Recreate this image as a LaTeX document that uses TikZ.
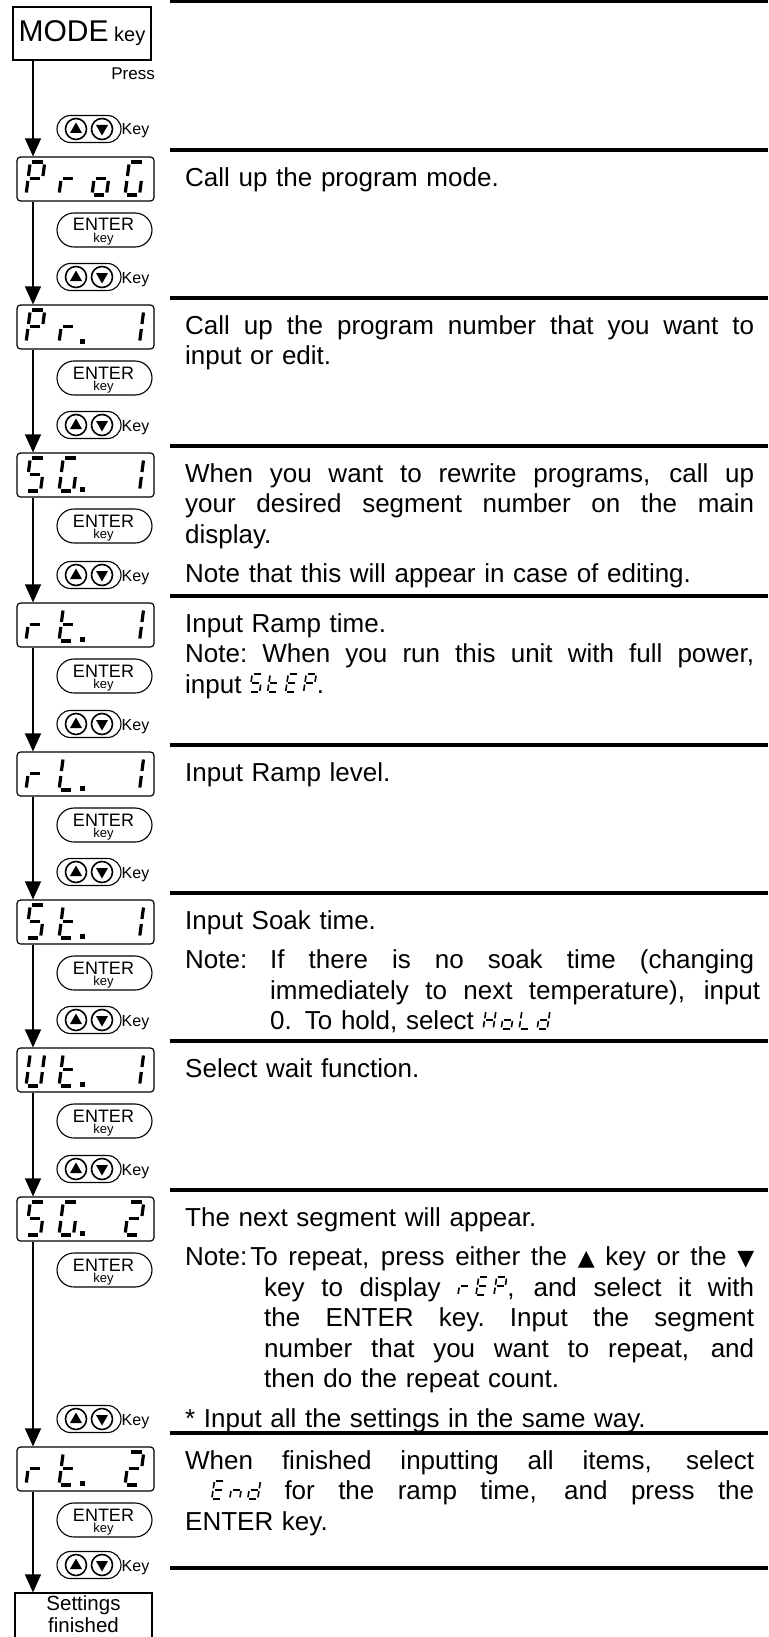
\documentclass[tikz,border=0pt]{standalone}
\usepackage{fontspec}
\setmainfont{Liberation Sans}
\newfontfamily\symfont{DejaVu Sans}
\usetikzlibrary{arrows.meta,shapes.misc}
\hyphenpenalty=10000
\exhyphenpenalty=10000
\hbadness=10000
\hfuzz=30pt

\expandafter\def\csname SEGa\endcsname{(1.5pt,20pt)--(8.5pt,20pt)}
\expandafter\def\csname SEGb\endcsname{(10pt,18.5pt)--(10pt,11.5pt)}
\expandafter\def\csname SEGc\endcsname{(10pt,8.5pt)--(10pt,1.5pt)}
\expandafter\def\csname SEGd\endcsname{(1.5pt,0pt)--(8.5pt,0pt)}
\expandafter\def\csname SEGe\endcsname{(0pt,1.5pt)--(0pt,8.5pt)}
\expandafter\def\csname SEGf\endcsname{(0pt,11.5pt)--(0pt,18.5pt)}
\expandafter\def\csname SEGg\endcsname{(1.5pt,10pt)--(8.5pt,10pt)}

\def\SgP{a,b,e,f,g}
\def\Sgr{e,g}
\def\Sgo{c,d,e,g}
\def\SgG{a,c,d,e,f}
\def\Sgone{b,c}
\def\SgS{a,c,d,f,g}
\def\Sgt{d,e,f,g}
\def\SgL{d,e,f}
\def\SgU{b,c,d,e,f}
\def\Sgtwo{a,b,d,e,g}
\def\SgE{a,d,e,f,g}
\def\SgH{b,c,e,f,g}
\def\Sgd{b,c,d,e,g}
\def\Sgn{c,e,g}

\tikzset{segln/.style={line width=3.2pt}}

\newcommand\segdigit[1]{\edef\seglist{#1}%
  \foreach \sg in \seglist {\edef\segtmp{\csname SEG\sg\endcsname}\draw[segln] \segtmp;}}
\newcommand\dchar[3]{\begin{scope}[shift={(#1,#2)},xslant=0.13,xscale=1.45,yscale=1.65]\segdigit{#3}\end{scope}}
\newcommand\dpt[1]{\fill (80,#1+34) rectangle (84.5,#1+38.5);}
\newcommand\lcd[1]{\tikz[baseline=-1pt]{\foreach \cc [count=\ci] in {#1}{\begin{scope}[xshift=\ci*18pt-18pt,xslant=0.15,xscale=1.0,yscale=0.9,segln/.style={line width=1.6pt}]\segdigit{\cc}\end{scope}}}}
\newcommand\jl[1]{\hbox to 569pt{\spaceskip=7.2pt plus 1fil\xspaceskip=7.2pt plus 1fil\relax #1}}
\newcommand\jh[1]{\hbox to 490pt{\spaceskip=7.2pt plus 1fil\xspaceskip=7.2pt plus 1fil\relax #1}}
\newcommand\tri{\symfont\fontsize{22}{30.5}\selectfont}

\newcommand\disp[2]{\node[dispbox] (#1) at (85.5,#2+22) {};}
\newcommand\enterkey[2]{%
  \node[enterbtn] (#1) at (104.5,#2) {};
  \node[anchor=base,inner sep=0pt,font=\fontsize{18}{18}\selectfont] (#1a) at (103.5,#2+1) {ENTER};
  \node[anchor=base,inner sep=0pt,font=\fontsize{13}{13}\selectfont] (#1b) at (103.5,#2+12.5) {key};}
\newcommand\updown[2]{%
  \node[keypill] (#1) at (89,#2) {};
  \draw[keycirc] (76,#2) circle[radius=10.5pt];
  \draw[keycirc] (102,#2) circle[radius=10.5pt];
  \fill (70,#2+4) -- (82,#2+4) -- (76,#2-6.5) -- cycle;
  \fill (96,#2-4) -- (108,#2-4) -- (102,#2+6.5) -- cycle;
  \node[anchor=base west,inner sep=0pt,font=\fontsize{16}{16}\selectfont] (#1t) at (121.5,#2+6) {Key};}

\begin{document}
\begin{tikzpicture}[x=1pt,y=-1pt,
  dispbox/.style={draw,line width=1.2pt,rounded corners=3.5pt,minimum width=137pt,minimum height=44pt,inner sep=0pt},
  enterbtn/.style={draw,rounded rectangle,line width=1.1pt,minimum width=95pt,minimum height=34pt,inner sep=0pt},
  keypill/.style={draw,rounded rectangle,line width=1.1pt,minimum width=64pt,minimum height=27pt,inner sep=0pt},
  keycirc/.style={line width=1.6pt},
  flow/.style={line width=1.2pt,-{Triangle[width=16pt,length=18pt]}},
  sepline/.style={line width=4pt},
  txt/.style={anchor=north west,inner sep=0pt,text width=569pt,align=left,font=\fontsize{26}{30.5}\selectfont},
]
\path[use as bounding box,fill=white] (0,0) rectangle (768,1637);
\coordinate (X) at (33,0);

% MODE key
\node[draw,line width=1.2pt,minimum width=138pt,minimum height=53pt,inner sep=0pt] (mode) at (82,33.5) {\fontsize{30}{30}\selectfont MODE\fontsize{20}{20}\selectfont\ key};
\node[anchor=base east,inner sep=0pt,font=\fontsize{17}{17}\selectfont] (press) at (155,80) {Press};

% displays
\disp{d1}{157}
\dchar{26}{195}{\SgP}\dchar{59}{195}{\Sgr}\dchar{92}{195}{\Sgo}\dchar{125}{195}{\SgG}
\disp{d2}{305}
\dchar{26}{343}{\SgP}\dchar{59}{343}{\Sgr}\dpt{305}\dchar{125}{343}{\Sgone}
\disp{d3}{453}
\dchar{26}{491}{\SgS}\dchar{59}{491}{\SgG}\dpt{453}\dchar{125}{491}{\Sgone}
\disp{d4}{603}
\dchar{26}{641}{\Sgr}\dchar{59}{641}{\Sgt}\dpt{603}\dchar{125}{641}{\Sgone}
\disp{d5}{752}
\dchar{26}{790}{\Sgr}\dchar{59}{790}{\SgL}\dpt{752}\dchar{125}{790}{\Sgone}
\disp{d6}{900}
\dchar{26}{938}{\SgS}\dchar{59}{938}{\Sgt}\dpt{900}\dchar{125}{938}{\Sgone}
\disp{d7}{1048}
\dchar{26}{1086}{\SgU}\dchar{59}{1086}{\Sgt}\dpt{1048}\dchar{125}{1086}{\Sgone}
\disp{d8}{1197}
\dchar{26}{1235}{\SgS}\dchar{59}{1235}{\SgG}\dpt{1197}\dchar{125}{1235}{\Sgtwo}
\disp{d9}{1447}
\dchar{26}{1485}{\Sgr}\dchar{59}{1485}{\Sgt}\dpt{1447}\dchar{125}{1485}{\Sgtwo}

\node[draw,line width=1.2pt,minimum width=137pt,minimum height=52pt,inner sep=0pt] (fin) at (83.5,1619) {};
\node[inner sep=0pt,align=center,font=\fontsize{20.5}{22}\selectfont] (fint) at (83.5,1614.5) {Settings\\finished};

% keys
\updown{k0}{129}
\enterkey{e1}{230}\updown{k1}{277}
\enterkey{e2}{378}\updown{k2}{425}
\enterkey{e3}{526}\updown{k3}{575}
\enterkey{e4}{676}\updown{k4}{724}
\enterkey{e5}{825}\updown{k5}{872}
\enterkey{e6}{973}\updown{k6}{1020}
\enterkey{e7}{1121}\updown{k7}{1169}
\enterkey{e8}{1270}\updown{k8}{1419}
\enterkey{e9}{1520}\updown{k9}{1565}

% flow
\draw[flow] (mode.south -| X) -- (d1.north -| X);
\draw[flow] (d1.south -| X) -- (d2.north -| X);
\draw[flow] (d2.south -| X) -- (d3.north -| X);
\draw[flow] (d3.south -| X) -- (d4.north -| X);
\draw[flow] (d4.south -| X) -- (d5.north -| X);
\draw[flow] (d5.south -| X) -- (d6.north -| X);
\draw[flow] (d6.south -| X) -- (d7.north -| X);
\draw[flow] (d7.south -| X) -- (d8.north -| X);
\draw[flow] (d8.south -| X) -- (d9.north -| X);
\draw[flow] (d9.south -| X) -- (fin.north -| X);

% separators
\draw[sepline] (170,1) -- (768,1);
\foreach \yy in {150,298,446,596,745,893,1041,1190,1433,1568} {\draw[sepline] (170,\yy) -- (768,\yy);}

% texts
\node[txt] (t1) at (185,164.65) {\noindent\strut Call up the program mode.};
\node[txt] (t2) at (185,312.65) {\noindent\strut\jl{Call up the program number that you want to}\\input or edit.};
\node[txt] (t3) at (185,460.65) {\noindent\strut\jl{When you want to rewrite programs, call up}\\\strut\jl{your desired segment number on the main}\\display.\\[9pt]Note that this will appear in case of editing.};
\node[txt] (t4) at (185,610.65) {\noindent\strut Input Ramp time.\\\strut\jl{Note: When you run this unit with full power,}\\input \lcd{\SgS,\Sgt,\SgE,\SgP}.};
\node[txt] (t5) at (185,759.65) {\noindent\strut Input Ramp level.};
\node[txt] (t6) at (185,907.65) {\noindent\strut Input Soak time.\\[9pt]\strut\jl{\makebox[85pt][l]{Note:}If there is no soak time (changing}\\\hspace*{85pt}\jh{immediately to next temperature), input}\\\hspace*{85pt}0. To hold, select \lcd{\SgH,\Sgo,\SgL,\Sgd}};
\node[txt] (t7) at (185,1055.65) {\noindent\strut Select wait function.};
\node[txt] (t8) at (185,1204.65) {\noindent\strut The next segment will appear.\\[9pt]\strut\jl{Note:\hspace{3pt}To repeat, press either the {\tri ▲} key or the {\tri ▼}}\\\hspace*{79pt}\jh{key to display \lcd{\Sgr,\SgE,\SgP}, and select it with}\\\hspace*{79pt}\jh{the ENTER key. Input the segment}\\\hspace*{79pt}\jh{number that you want to repeat, and}\\\hspace*{79pt}then do the repeat count.\\[9pt]* Input all the settings in the same way.};
\node[txt] (t9) at (185,1447.65) {\noindent\strut\jl{When finished inputting all items, select}\\\strut\jl{\hspace*{26pt}\lcd{\SgE,\Sgn,\Sgd} for the ramp time, and press the}\\ENTER key.};
\end{tikzpicture}
\end{document}
